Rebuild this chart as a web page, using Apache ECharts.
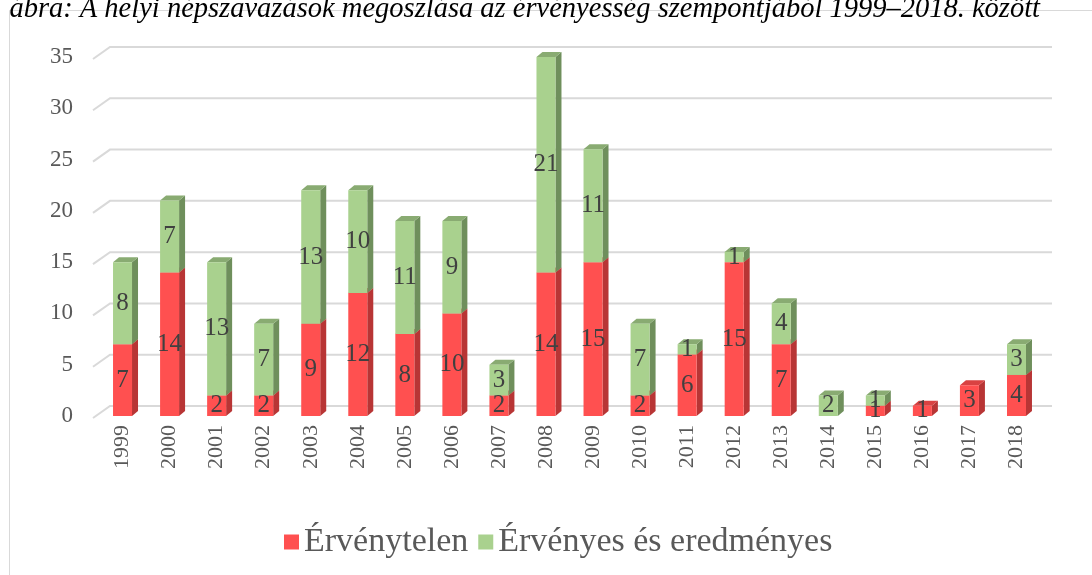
<!DOCTYPE html>
<html>
<head>
<meta charset="utf-8">
<script src="https://cdn.jsdelivr.net/npm/echarts@6/dist/echarts.min.js"></script>
<style>
  html, body { margin: 0; padding: 0; background: #fff; }
  #chart { width: 1092px; height: 575px; }
</style>
</head>
<body>
<div id="chart"></div>
<script>
const years = ['1999', '2000', '2001', '2002', '2003', '2004', '2005', '2006', '2007', '2008',
  '2009', '2010', '2011', '2012', '2013', '2014', '2015', '2016', '2017', '2018'];
const invalid = [7, 14, 2, 2, 9, 12, 8, 10, 2, 14, 15, 2, 6, 15, 7, 0, 1, 1, 3, 4];
const valid = [8, 7, 13, 7, 13, 10, 11, 9, 3, 21, 11, 7, 1, 1, 4, 2, 1, 0, 0, 3];
const yTicks = [0, 5, 10, 15, 20, 25, 30, 35];

const FONT = '"Liberation Serif", "Times New Roman", serif';
const RED = '#FF5050', RED_SIDE = '#B83535', RED_TOP = '#D94242';
const GREEN = '#A9D18E', GREEN_SIDE = '#6F8F5C', GREEN_TOP = '#89AB72';
const HALF = 9.5, DX = 6, DY = -5;

const chart = echarts.init(document.getElementById('chart'));

// side + top faces for the pseudo-3D columns
function renderDepth(params, api) {
  const idx = api.value(0);
  const r = api.value(1), g = api.value(2);
  const p0 = api.coord([idx, 0]);
  const x = p0[0];
  const children = [];
  function seg(ya, yb, side, top) {
    children.push({
      type: 'polygon',
      shape: { points: [[x + HALF, yb], [x + HALF + DX, yb + DY], [x + HALF + DX, ya + DY], [x + HALF, ya]] },
      style: { fill: side }
    });
    children.push({
      type: 'polygon',
      shape: { points: [[x - HALF, yb], [x - HALF + DX, yb + DY], [x + HALF + DX, yb + DY], [x + HALF, yb]] },
      style: { fill: top }
    });
  }
  const yr = api.coord([idx, r])[1];
  const yg = api.coord([idx, r + g])[1];
  if (r > 0) seg(p0[1], yr, RED_SIDE, RED_TOP);
  if (g > 0) seg(yr, yg, GREEN_SIDE, GREEN_TOP);
  return { type: 'group', children: children };
}

// back-wall gridlines with the floor diagonal
function renderGrid(params, api) {
  const cs = params.coordSys;
  const y = api.coord([0, api.value(0)])[1];
  return {
    type: 'polyline',
    shape: { points: [[cs.x - 6, y + 2], [cs.x + 11, y - 10], [cs.x + cs.width + 12, y - 10]] },
    style: { stroke: '#D9D9D9', lineWidth: 2, fill: null }
  };
}

const labelFmt = p => (p.value ? String(p.value) : '');

chart.setOption({
  animation: false,
  backgroundColor: '#fff',
  graphic: [
    {
      type: 'rect', z: 10,
      shape: { x: 9.5, y: 10.5, width: 1200, height: 700 },
      style: { fill: null, stroke: '#D9D9D9', lineWidth: 1 }
    },
    {
      type: 'text', z: 11,
      style: {
        text: '1. ábra: A helyi népszavazások megoszlása az érvényesség szempontjából 1999–2018. között',
        x: 1040, y: 24, align: 'right', verticalAlign: 'bottom',
        font: 'italic 28.5px ' + FONT, fill: '#000'
      }
    }
  ],
  legend: {
    data: ['Érvénytelen', 'Érvényes és eredményes'],
    left: 279, top: 520,
    icon: 'rect', itemWidth: 15, itemHeight: 15, itemGap: 10,
    textStyle: { fontSize: 34, color: '#595959', fontFamily: FONT }
  },
  grid: { left: 99, right: 52, top: 57, bottom: 159 },
  xAxis: {
    type: 'category',
    data: years,
    axisLine: { show: false },
    axisTick: { show: false },
    axisLabel: { rotate: 90, fontSize: 22, color: '#595959', fontFamily: FONT, margin: 9 }
  },
  yAxis: {
    type: 'value',
    min: 0, max: 35, interval: 5,
    splitLine: { show: false },
    axisLine: { show: false },
    axisTick: { show: false },
    axisLabel: { fontSize: 23, color: '#595959', fontFamily: FONT, margin: 26 }
  },
  series: [
    {
      type: 'custom', name: 'grid', silent: true, z: 0,
      renderItem: renderGrid,
      data: yTicks.map(v => [v])
    },
    {
      type: 'custom', name: 'depth', silent: true, z: 1,
      renderItem: renderDepth,
      data: years.map((y, i) => [i, invalid[i], valid[i]])
    },
    {
      type: 'bar', name: 'Érvénytelen', stack: 'all', barWidth: 19, z: 2,
      itemStyle: { color: RED },
      label: { show: true, position: 'inside', fontSize: 25, color: '#404040', fontFamily: FONT, formatter: labelFmt },
      data: invalid
    },
    {
      type: 'bar', name: 'Érvényes és eredményes', stack: 'all', barWidth: 19, z: 2,
      itemStyle: { color: GREEN },
      label: { show: true, position: 'inside', fontSize: 25, color: '#404040', fontFamily: FONT, formatter: labelFmt },
      data: valid
    }
  ]
});
</script>
</body>
</html>
